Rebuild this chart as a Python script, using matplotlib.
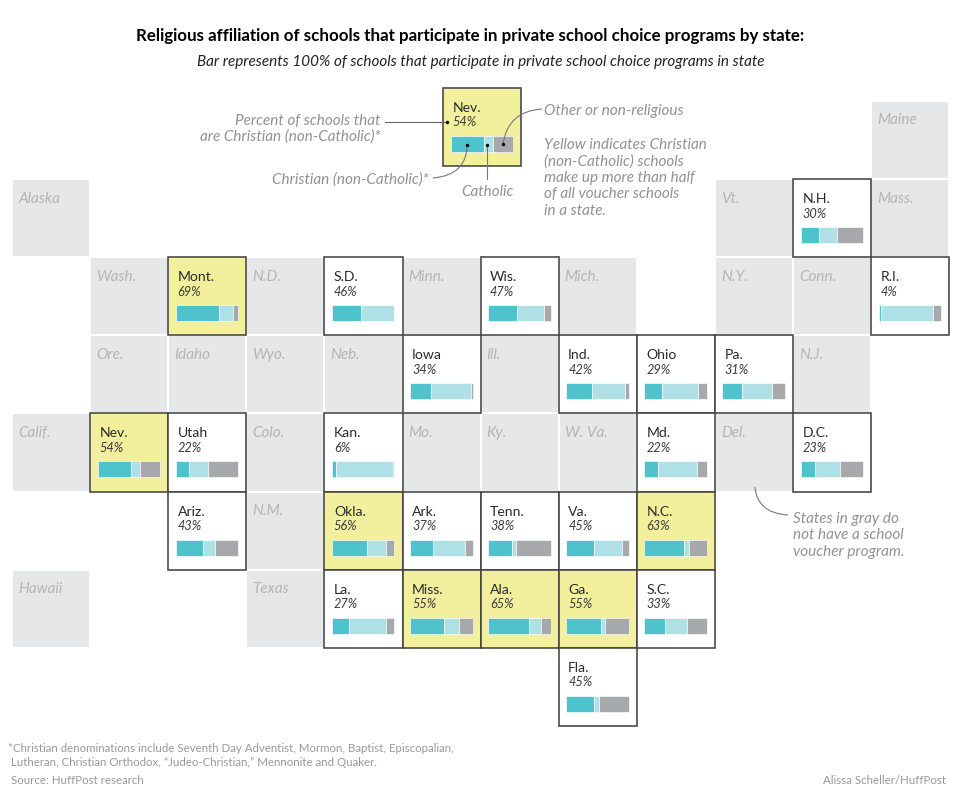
#!/usr/bin/env python3
"""Tile grid map: religious affiliation of private school choice schools."""
import matplotlib
matplotlib.use("Agg")
import matplotlib.pyplot as plt
from matplotlib.patches import PathPatch, Rectangle
from matplotlib.path import Path

plt.rcParams["font.family"] = ["Lato", "DejaVu Sans"]

TEAL = "#4fc3cb"
PALE = "#aee0e5"
GREY = "#a7a8ab"
TILE = "#e6e7e8"
YELLOW = "#f2f09c"
EDGE = "#444444"
NOTE = "#929294"
FAINT = "#b3b4b6"

# states with a program
STATES = ["N.H.", "Mont.", "S.D.", "Wis.", "R.I.", "Iowa", "Ind.", "Ohio", "Pa.",
          "Nev.", "Utah", "Kan.", "Md.", "D.C.", "Ariz.", "Okla.", "Ark.", "Tenn.",
          "Va.", "N.C.", "La.", "Miss.", "Ala.", "Ga.", "S.C.", "Fla."]
CHRISTIAN = [30, 69, 46, 47, 4, 34, 42, 29, 31,
             54, 22, 6, 22, 23, 43, 56, 37, 38,
             45, 63, 27, 55, 65, 55, 33, 45]
CATHOLIC = [29, 22, 54, 43, 83, 64, 52, 57, 48,
            14, 29, 92, 63, 40, 20, 31, 51, 6,
            45, 9, 60, 24, 20, 7, 36, 7]
OTHER = [41, 9, 0, 10, 13, 2, 6, 14, 21,
         32, 49, 2, 15, 37, 37, 13, 12, 56,
         10, 28, 13, 21, 15, 38, 31, 48]

# states without a program
GRAY_STATES = ["Maine", "Alaska", "Vt.", "Mass.", "Wash.", "N.D.", "Minn.", "Mich.",
               "N.Y.", "Conn.", "Ore.", "Idaho", "Wyo.", "Neb.", "Ill.", "N.J.",
               "Calif.", "Colo.", "Mo.", "Ky.", "W. Va.", "Del.", "N.M.", "Hawaii",
               "Texas"]

# tile position, column and row
GRID = {
    "Maine": (11, 0), "Alaska": (0, 1), "Vt.": (9, 1), "N.H.": (10, 1), "Mass.": (11, 1),
    "Wash.": (1, 2), "Mont.": (2, 2), "N.D.": (3, 2), "S.D.": (4, 2), "Minn.": (5, 2),
    "Wis.": (6, 2), "Mich.": (7, 2), "N.Y.": (9, 2), "Conn.": (10, 2), "R.I.": (11, 2),
    "Ore.": (1, 3), "Idaho": (2, 3), "Wyo.": (3, 3), "Neb.": (4, 3), "Iowa": (5, 3),
    "Ill.": (6, 3), "Ind.": (7, 3), "Ohio": (8, 3), "Pa.": (9, 3), "N.J.": (10, 3),
    "Calif.": (0, 4), "Nev.": (1, 4), "Utah": (2, 4), "Colo.": (3, 4), "Kan.": (4, 4),
    "Mo.": (5, 4), "Ky.": (6, 4), "W. Va.": (7, 4), "Md.": (8, 4), "Del.": (9, 4),
    "D.C.": (10, 4), "Ariz.": (2, 5), "N.M.": (3, 5), "Okla.": (4, 5), "Ark.": (5, 5),
    "Tenn.": (6, 5), "Va.": (7, 5), "N.C.": (8, 5), "Hawaii": (0, 6), "Texas": (3, 6),
    "La.": (4, 6), "Miss.": (5, 6), "Ala.": (6, 6), "Ga.": (7, 6), "S.C.": (8, 6),
    "Fla.": (7, 7),
}

X0, Y0, STEP = 12, 102, 78.1
BAR_W = 62.5

fig = plt.figure(figsize=(9.6, 8.04), dpi=100)
ax = fig.add_axes([0, 0, 1, 1])
ax.set_xlim(0, 960)
ax.set_ylim(804, 0)
ax.axis("off")


def state_tile(x, y, name, christian, catholic, other):
    color = YELLOW if christian > 50 else "white"
    ax.add_patch(Rectangle((x, y), STEP, STEP, fc=color, ec=EDGE, lw=1.15, zorder=3))
    ax.text(x + 9.5, y + 19, name, fontsize=10.1, color="#2a2a2a", va="center", zorder=5)
    ax.text(x + 9.5, y + 33.5, f"{christian}%", fontsize=9.2, color="#3a3a3a", style="italic",
            va="center", zorder=5)
    left = x + 7.5
    for value, col in zip((christian, catholic, other), (TEAL, PALE, GREY)):
        w = BAR_W * value / 100
        if w > 0:
            ax.barh(y + 56, w, height=16, left=left, color=col, edgecolor="white",
                    linewidth=0.45, zorder=4)
        left += w


def curve(p0, ctrl, p1):
    path = Path([p0, ctrl, p1], [Path.MOVETO, Path.CURVE3, Path.CURVE3])
    ax.add_patch(PathPatch(path, fc="none", ec="#777", lw=0.8, zorder=6))


for name in GRAY_STATES:
    c, r = GRID[name]
    x, y = X0 + c * STEP, Y0 + r * STEP
    ax.add_patch(Rectangle((x + 1, y + 1), STEP - 2, STEP - 2, fc=TILE, ec="none", zorder=1))
    ax.text(x + 6, y + 18.5, name, fontsize=11, color=FAINT, style="italic", va="center", zorder=2)

for name, a, b, o in zip(STATES, CHRISTIAN, CATHOLIC, OTHER):
    c, r = GRID[name]
    state_tile(X0 + c * STEP, Y0 + r * STEP, name, a, b, o)

# key, a copy of the Nevada tile
i = STATES.index("Nev.")
state_tile(443, 89, "Nev.", CHRISTIAN[i], CATHOLIC[i], OTHER[i])

ax.plot([385, 447], [122.5, 122.5], color="#666", lw=0.8, zorder=6)
ax.plot([487, 487], [146, 180], color="#777", lw=0.8, zorder=6)
curve((467, 146), (467, 176), (433, 179))
curve((503, 145), (508, 112), (542, 110))
ax.scatter([447, 467, 487, 503], [122.5, 146, 146, 145], s=6, color="black", linewidths=0, zorder=7)

note = dict(fontsize=11, color=NOTE, style="italic", va="center", zorder=6)
ax.text(380, 121, "Percent of schools that", ha="right", **note)
ax.text(380, 136.5, "are Christian (non-Catholic)*", ha="right", **note)
ax.text(429, 179.5, "Christian (non-Catholic)*", ha="right", **note)
ax.text(487, 191.5, "Catholic", ha="center", **note)
ax.text(544, 111.5, "Other or non-religious", **note)
for k, line in enumerate(["Yellow indicates Christian", "(non-Catholic) schools",
                          "make up more than half", "of all voucher schools", "in a state."]):
    ax.text(544, 145 + k * 16.4, line, **note)
for k, line in enumerate(["States in gray do", "not have a school", "voucher program."]):
    ax.text(793, 519 + k * 16.4, line, **note)
curve((755, 488), (757, 514), (788, 516))

ax.text(470, 36, "Religious affiliation of schools that participate in private school choice programs by state:",
        fontsize=12.2, fontweight="bold", color="black", ha="center", va="center")
ax.text(480.5, 62, "Bar represents 100% of schools that participate in private school choice programs in state",
        fontsize=10.95, style="italic", color="#222", ha="center", va="center")

foot = dict(fontsize=8.25, color="#9a9a9c", va="center")
ax.text(8, 749, "*Christian denominations include Seventh Day Adventist, Mormon, Baptist, Episcopalian,", **foot)
ax.text(11, 763, "Lutheran, Christian Orthodox, \u201cJudeo-Christian,\u201d Mennonite and Quaker.", **foot)
ax.text(11, 781, "Source: HuffPost research", **foot)
ax.text(946, 781, "Alissa Scheller/HuffPost", ha="right", **foot)

fig.savefig("out.png", dpi=100)
